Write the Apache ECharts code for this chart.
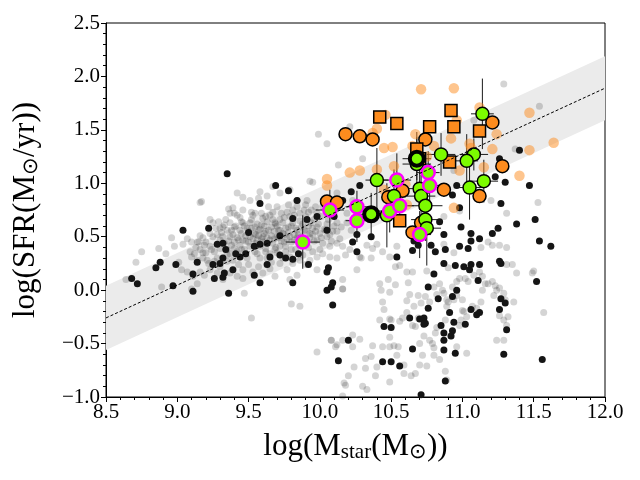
<!DOCTYPE html>
<html>
<head>
<meta charset="utf-8">
<script src="https://cdn.jsdelivr.net/npm/echarts@6/dist/echarts.min.js"></script>
<style>
html, body { margin: 0; padding: 0; background: #fff; }
#container { width: 640px; height: 480px; }
</style>
</head>
<body>
<div id="container"></div>
<script>
var dom = document.getElementById("container");
var myChart = echarts.init(dom);

// main sequence line and its scatter band
var msX = [8.5, 12.0];
var msY = [-0.26, 1.89];
var bandHalf = 0.3;

// faint background galaxies
var greyPts = [
    // dense sequence
    [9.58,0.92],[9.63,0.88],[9.57,0.86],[9.52,0.73],[9.545,0.72],[9.59,0.72],[9.62,0.69],[9.65,0.70],
    [9.67,0.73],[9.70,0.78],[9.73,0.72],[9.77,0.73],[9.79,0.69],[9.81,0.75],[9.84,0.78],[9.86,0.72],
    [9.90,0.69],[9.92,0.73],[9.94,0.75],[9.98,0.72],[10.01,0.69],[9.72,0.91],[9.67,0.97],[9.79,0.94],
    [9.84,0.84],[9.39,0.77],[9.37,0.72],[9.42,0.70],[9.46,0.75],[9.23,0.66],[9.25,0.63],[9.29,0.64],
    [9.32,0.59],[9.35,0.56],[9.37,0.63],[9.40,0.59],[9.44,0.56],[9.46,0.63],[9.49,0.58],[9.51,0.63],
    [9.545,0.59],[9.57,0.56],[9.59,0.61],[9.63,0.64],[9.66,0.59],[9.685,0.63],[9.71,0.56],[9.74,0.63],
    [9.78,0.59],[9.81,0.63],[9.84,0.56],[9.87,0.59],[9.91,0.55],[9.94,0.63],[9.98,0.59],[10.00,0.53],
    [10.04,0.56],[10.07,0.52],[10.12,0.55],[10.15,0.59],[10.19,0.63],[10.22,0.56],[10.12,0.44],[10.16,0.41],
    [10.07,0.41],[10.02,0.34],[10.07,0.31],[10.12,0.30],[10.18,0.33],[10.21,0.38],[9.98,0.31],[9.93,0.28],
    [9.90,0.24],[9.86,0.28],[9.81,0.25],[9.79,0.31],[9.76,0.36],[9.72,0.41],[9.685,0.38],[9.65,0.34],
    [9.62,0.39],[9.58,0.41],[9.545,0.36],[9.51,0.41],[9.47,0.38],[9.44,0.42],[9.40,0.39],[9.37,0.34],
    [9.33,0.44],[9.30,0.39],[9.26,0.36],[9.23,0.41],[9.19,0.42],[9.16,0.38],[9.12,0.34],[9.10,0.31],
    [9.14,0.28],[9.18,0.30],[9.22,0.25],[9.26,0.27],[9.30,0.22],[9.35,0.27],[9.39,0.28],[9.43,0.24],
    [9.46,0.19],[9.50,0.24],[9.53,0.17],[9.57,0.22],[9.60,0.16],[9.65,0.20],[9.685,0.13],[9.72,0.25],
    [9.77,0.19],[9.79,0.10],[9.84,0.14],[9.46,0.11],[9.42,0.13],[9.37,0.16],[9.32,0.10],[9.28,0.16],
    [9.23,0.19],[9.19,0.14],[9.16,0.17],[9.11,0.13],[9.51,0.50],[9.56,0.47],[9.60,0.50],[9.65,0.47],
    [9.70,0.50],[9.74,0.53],[9.79,0.50],[9.84,0.49],[9.88,0.47],[9.93,0.49],[9.98,0.47],[10.02,0.44],
    [9.32,0.50],[9.28,0.52],[9.23,0.53],[9.18,0.49],[9.15,0.45],[9.37,0.50],[9.42,0.49],[9.46,0.47],
    [9.17,0.83],[9.10,0.45],[10.16,0.10],[10.26,0.19],[10.28,0.31],[9.98,0.19],[10.12,0.63],[10.19,0.72],
    [10.23,0.84],[9.91,0.84],[10.04,0.84],[10.12,0.91],[9.51,0.84],[9.46,0.87],[9.42,0.91],
    [9.55,0.52],[9.62,0.55],[9.68,0.48],[9.75,0.45],[9.82,0.52],[9.88,0.62],[9.95,0.52],[10.05,0.62],
    [9.70,0.60],[9.60,0.45],[9.50,0.55],[9.45,0.38],[9.40,0.45],[9.35,0.38],[9.28,0.30],[9.20,0.35],
    [9.58,0.30],[9.66,0.26],[9.74,0.30],[9.80,0.38],[9.86,0.42],[9.92,0.40],[10.00,0.38],[10.08,0.46],
    [10.14,0.48],[9.72,0.66],[9.78,0.80],[9.64,0.78],[9.52,0.66],[9.44,0.68],[9.34,0.66],[9.96,0.66],
    [10.02,0.78],[10.10,0.72],[9.90,0.80],[9.56,0.62],[9.48,0.46],[9.38,0.56],[9.62,0.36],[9.70,0.35],
    [9.25,0.50],[9.27,0.58],[9.30,0.47],[9.31,0.54],[9.33,0.61],[9.36,0.46],[9.38,0.42],[9.39,0.52],
    [9.41,0.60],[9.43,0.47],[9.45,0.53],[9.47,0.60],[9.48,0.51],[9.50,0.45],[9.52,0.58],[9.53,0.48],
    [9.54,0.53],[9.55,0.44],[9.57,0.51],[9.58,0.57],[9.59,0.48],[9.61,0.53],[9.61,0.60],[9.63,0.49],
    [9.64,0.56],[9.66,0.51],[9.67,0.44],[9.68,0.55],[9.69,0.62],[9.71,0.49],[9.72,0.56],[9.73,0.46],
    [9.75,0.52],[9.76,0.58],[9.77,0.48],[9.78,0.54],[9.80,0.45],[9.80,0.60],[9.82,0.47],[9.83,0.58],
    [9.85,0.52],[9.86,0.65],[9.87,0.50],[9.89,0.56],[9.90,0.45],[9.92,0.60],[9.93,0.53],[9.95,0.58],
    [9.96,0.46],[9.97,0.55],[9.99,0.62],[10.01,0.49],[10.03,0.57],[10.05,0.50],[10.06,0.66],[10.09,0.55],
    [10.10,0.60],[9.35,0.33],[9.42,0.36],[9.49,0.30],[9.56,0.34],[9.63,0.30],[9.69,0.40],[9.76,0.41],
    [9.83,0.38],[9.88,0.33],[9.95,0.36],[9.53,0.70],[9.60,0.67],[9.67,0.66],[9.75,0.68],[9.82,0.70],
    [9.89,0.75],[9.97,0.78],[9.45,0.64],[9.30,0.58],[9.20,0.45],[9.24,0.38],[9.13,0.40],[9.09,0.36],
    // left and upper outliers
    [10.13,1.17],[9.95,1.01],[9.16,0.82],[9.36,0.76],[9.40,0.72],[8.96,0.49],[8.75,0.36],[8.71,0.26],
    [8.87,0.39],[8.92,0.34],[8.64,0.10],[8.89,0.03],[9.10,0.01],[9.14,0.06],[9.47,-0.03],[9.52,-0.26],
    [9.80,-0.13],[9.86,-0.15],[10.16,0.01],[10.08,-0.47],[10.12,-0.51],[10.23,-0.53],[8.98,0.41],[9.04,0.43],
    [9.07,0.48],[9.01,0.26],[9.03,0.19],[9.07,0.17],[9.16,0.51],[9.14,0.45],[9.18,0.35],[9.21,0.28],
    [11.29,1.93],[11.54,1.72],[9.99,1.46],[10.05,1.37],[10.21,1.53],[10.30,1.23],[11.08,1.59],[11.37,1.32],
    [10.94,1.12],[11.20,0.84],[11.31,0.72],[11.53,0.82],[11.13,0.85],[10.98,0.74],[10.87,0.69],[11.18,0.45],
    [9.93,1.02],
    // quenched cloud
    [10.16,0.01],[9.98,-0.58],[10.08,-0.47],[10.11,-0.53],[10.16,-0.47],[10.23,-0.42],[10.28,-0.46],[10.32,-0.64],
    [10.36,-0.62],[10.37,-0.52],[10.40,-0.72],[10.32,-0.73],[10.24,-0.72],[10.20,-0.80],[10.17,-0.87],[10.18,-0.89],
    [10.16,-0.99],[10.30,-0.90],[10.33,-0.93],[10.39,-0.80],[10.44,-0.53],[10.49,-0.53],[10.52,-0.52],[10.55,-0.53],
    [10.54,-0.61],[10.49,-0.44],[10.49,-0.27],[10.44,-0.11],[10.45,-0.18],[10.42,-0.28],[10.50,-0.28],[10.56,-0.29],
    [10.58,-0.26],[10.61,-0.21],[10.61,-0.10],[10.66,-0.15],[10.71,-0.12],[10.74,-0.06],[10.77,-0.11],[10.69,-0.26],
    [10.65,-0.33],[10.67,-0.34],[10.73,-0.43],[10.70,-0.50],[10.72,-0.61],[10.75,-0.71],[10.67,-0.78],[10.70,-0.70],
    [10.64,-0.80],[10.59,-0.78],[10.49,-0.86],[10.59,-0.70],[10.77,-0.47],[10.80,-0.54],[10.80,-0.61],[10.79,-0.50],
    [10.84,-0.65],[10.81,-0.40],[10.82,-0.35],[10.88,-0.28],[10.89,-0.15],[10.90,-0.11],[10.94,-0.09],[11.00,-0.09],
    [11.01,-0.20],[11.03,-0.25],[10.99,-0.28],[10.98,-0.33],[11.00,-0.19],[11.07,-0.15],[11.10,-0.17],[11.13,-0.11],
    [11.14,0.00],[11.16,0.06],[11.18,0.06],[11.21,0.08],[11.23,0.04],[11.24,0.00],[11.22,-0.05],[11.26,0.02],
    [11.29,-0.03],[11.30,-0.09],[11.26,-0.24],[11.29,-0.28],[11.31,-0.33],[11.32,-0.25],[11.29,-0.47],[11.24,-0.47],
    [11.36,-0.11],[11.38,0.16],[11.31,0.24],[11.35,0.24],[11.26,0.42],[11.31,0.40],[11.50,0.18],[11.49,0.16],
    [11.57,-0.21],[10.54,0.41],[10.40,0.43],[10.37,0.39],[10.44,0.36],[10.36,0.30],[10.33,0.42],[10.29,0.30],
    [10.49,0.31],[10.53,0.22],[10.56,0.23],[10.61,0.17],[10.65,0.17],[10.75,0.18],[10.84,0.06],[10.87,-0.03],
    [10.93,0.03],[10.96,0.08],[10.98,0.11],[11.02,0.11],[11.08,0.14],[11.12,0.17],[11.14,0.13],[10.90,0.21],
    [10.94,0.35],[10.87,0.43],[11.13,0.40],[11.21,0.42],[10.48,0.10],[10.42,0.06],[10.43,0.00],[10.49,-0.02],
    [10.53,0.05],[10.62,0.07],[10.63,-0.04],[10.69,-0.05],[10.82,-0.04],[10.86,0.00],[10.80,0.03],[10.89,-0.09],
    [10.96,-0.05],[11.04,0.08],[10.89,-0.84],[10.88,-0.76],[11.03,-0.59],[10.96,-0.53],[10.92,-0.43]
];

// individually detected galaxies (black dots)
var blackPts = [
    [9.35,1.09],[9.69,0.98],[9.78,0.93],[9.58,0.81],[9.84,0.84],[9.04,0.56],[9.22,0.58],[9.50,0.54],
    [9.81,0.67],[9.91,0.66],[9.98,0.69],[10.05,0.56],[10.22,0.92],[9.72,0.51],[9.63,0.44],[9.58,0.43],
    [9.54,0.41],[9.48,0.34],[9.44,0.31],[9.41,0.34],[9.34,0.38],[9.28,0.43],[9.32,0.44],[9.32,0.30],
    [9.30,0.25],[9.25,0.24],[9.14,0.26],[8.99,0.24],[8.88,0.26],[8.85,0.21],[9.11,0.15],[9.26,0.11],
    [9.32,0.12],[9.33,0.16],[9.39,0.19],[9.54,0.14],[9.58,0.07],[9.63,0.24],[9.65,0.31],[9.72,0.33],
    [9.76,0.30],[9.81,0.29],[9.92,0.24],[10.05,0.17],[10.06,0.21],[9.81,0.07],[10.09,0.07],[10.08,0.03],
    [10.05,0.00],[10.09,-0.14],[9.36,-0.03],[9.11,-0.01],[8.97,0.04],[8.72,0.06],[8.68,0.11],[10.26,0.36],
    [10.26,0.52],[10.20,-0.47],[9.85,0.34],
    [10.54,0.31],[10.65,0.37],[10.69,0.42],[10.78,0.42],[10.81,0.36],[10.88,0.38],[10.98,0.41],[11.04,0.39],
    [11.06,0.46],[10.87,0.25],[10.95,0.23],[11.01,0.22],[11.05,0.19],[11.06,0.24],[11.12,0.24],[10.80,0.15],
    [10.76,0.03],[10.83,-0.08],[10.96,0.00],[10.93,-0.06],[10.76,-0.17],[10.63,-0.26],[10.70,-0.27],[10.73,-0.26],
    [10.74,-0.31],[10.73,-0.32],[10.91,-0.21],[10.94,-0.30],[11.02,-0.32],[11.06,-0.18],[11.10,-0.23],[11.12,-0.21],
    [10.85,-0.33],[10.87,-0.40],[10.87,-0.47],[10.92,-0.43],[10.93,-0.38],[10.87,-0.56],[10.95,-0.59],[10.65,-0.55],
    [10.13,-0.66],[10.44,-0.67],[10.50,-0.67],[10.56,-0.71],[10.45,-0.34],[10.50,-0.35],[11.27,-0.08],[11.30,-0.12],
    [11.26,-0.18],[11.31,-0.37],[11.26,0.27],[11.27,0.25],[11.11,0.09],[11.52,0.08],[11.54,0.46],[11.62,0.41],
    [11.29,-0.60],[11.56,-0.65],[10.88,-0.85],[10.71,-0.98],
    [11.40,1.31],[11.26,1.23],[11.23,1.06],[11.30,1.01],[11.47,0.98],[10.96,0.98],[10.93,0.89],[10.98,0.77],
    [10.99,0.59],[11.06,0.53],[11.12,0.48],[11.21,0.53],[11.25,0.58],[11.27,0.81],[11.38,0.62],[11.51,0.66],
    [10.84,0.64],[10.87,0.52],[10.66,0.46],[10.28,0.98],[10.16,0.84],[10.23,0.45],[10.36,0.50],[10.10,0.69]
];

// faint orange sample
var lightOrangePts = [
    [10.71,1.88],[10.94,1.89],[11.12,1.71],[11.47,1.66],[11.64,1.38],[11.47,1.31],[11.40,1.07],[11.21,1.32],
    [11.24,1.46],[11.15,1.15],[11.05,1.37],[11.06,1.33],[10.92,1.42],[10.96,1.59],[10.98,1.12],[10.94,0.77],
    [10.80,1.35],[10.75,1.25],[10.67,1.46],[10.65,1.35],[10.46,1.64],[10.40,1.51],[10.37,1.47],[10.45,1.33],
    [10.51,1.34],[10.40,1.13],[10.52,1.16],[10.28,1.12],[10.21,1.10],[10.05,1.04],[10.05,0.98],[10.45,0.94],
    [10.60,0.99],[10.61,0.80]
];

var orangeCircles = [
    [10.18,1.46],[10.28,1.44],[10.37,1.41],[10.74,1.41],[11.21,1.57],[11.28,1.16],[10.87,0.94],[11.12,0.88],
    [10.58,0.93],[10.48,0.87],[10.05,0.83],[10.12,0.82],[10.65,0.54],[10.71,0.63]
];

var orangeSquares = [
    [10.42,1.62],[10.54,1.56],[10.77,1.53],[10.92,1.68],[10.94,1.53],[11.12,1.49],[10.68,1.32],[10.70,1.23],
    [10.91,1.20],[10.56,0.65]
];

// [logM, logSFR, err logM, err logSFR]
var greenPts = [
    [11.14,1.65,0.08,0.33],[10.85,1.27,0.10,0.20],[11.08,1.27,0.10,0.15],[11.03,1.21,0.08,0.25],
    [10.68,1.18,0.10,0.30],[10.40,1.03,0.08,0.30],[11.15,1.02,0.10,0.20],[11.05,0.96,0.10,0.30],
    [10.70,0.95,0.10,0.20],[10.52,0.88,0.08,0.25],[10.71,0.88,0.10,0.20],[10.74,0.79,0.12,0.15],
    [10.47,0.70,0.10,0.30],[10.74,0.66,0.10,0.20],[10.75,0.58,0.10,0.35]
];
var magentaPts = [
    [9.88,0.45,0.12,0.25],[10.07,0.75,0.10,0.19],[10.26,0.78,0.08,0.15],[10.26,0.65,0.08,0.20],
    [10.49,0.74,0.08,0.20],[10.56,0.79,0.10,0.15],[10.54,1.03,0.10,0.25],[10.76,1.10,0.08,0.20],
    [10.77,0.98,0.08,0.20],[10.70,0.52,0.08,0.22]
];
var ringPts = [
    [10.36,0.71,0.10,0.20],[10.68,1.23,0.10,0.20]
];

var serif = "'Liberation Serif', 'Times New Roman', serif";
var orange = '#fd8c1e';
var green = '#7cfc00';

var errorBars = function (data) {
    return {
        type: 'custom',
        silent: true,
        renderItem: function (params, api) {
            var x = api.value(0), y = api.value(1), xe = api.value(2), ye = api.value(3);
            var l = api.coord([x - xe, y]), r = api.coord([x + xe, y]);
            var t = api.coord([x, y + ye]), b = api.coord([x, y - ye]);
            var st = { stroke: '#1a1a1a', lineWidth: 1 };
            return {
                type: 'group',
                children: [
                    { type: 'line', shape: { x1: l[0], y1: l[1], x2: r[0], y2: r[1] }, style: st },
                    { type: 'line', shape: { x1: t[0], y1: t[1], x2: b[0], y2: b[1] }, style: st }
                ]
            };
        },
        data: data
    };
};

var pts = function (data) {
    return data.map(function (d) { return [d[0], d[1]]; });
};

var tickFmt = function (v) {
    return (v < 0 ? '\u2212' : '') + Math.abs(v).toFixed(1);
};

var titleRich = {
    a: { fontFamily: serif, fontSize: 31, color: '#000' },
    s: { fontFamily: serif, fontSize: 21, color: '#000', verticalAlign: 'bottom', padding: [12, 0, 0, 0] }
};

option = {
    backgroundColor: '#fff',
    animation: false,
    grid: {
        left: 106, right: 35, top: 23, bottom: 83,
        show: true, borderColor: '#000', borderWidth: 1
    },
    xAxis: {
        type: 'value', min: 8.5, max: 12.0, interval: 0.5,
        name: '{a|log(M}{s|star}{a|(M}{s|⊙}{a|))}',
        nameLocation: 'middle', nameGap: 33,
        nameTextStyle: { rich: titleRich },
        axisLine: { onZero: false, lineStyle: { color: '#000' } },
        axisTick: { length: 5, lineStyle: { color: '#000' } },
        minorTick: { show: true, splitNumber: 5, length: 3, lineStyle: { color: '#000' } },
        splitLine: { show: false },
        axisLabel: { fontFamily: serif, fontSize: 21, color: '#000', margin: 5, formatter: tickFmt }
    },
    yAxis: {
        type: 'value', min: -1.0, max: 2.5, interval: 0.5,
        name: '{a|log(SFR(M}{s|⊙}{a|/yr))}',
        nameLocation: 'middle', nameGap: 64,
        nameTextStyle: { rich: titleRich },
        axisLine: { onZero: false, lineStyle: { color: '#000' } },
        axisTick: { length: 5, lineStyle: { color: '#000' } },
        minorTick: { show: true, splitNumber: 5, length: 3, lineStyle: { color: '#000' } },
        splitLine: { show: false },
        axisLabel: { fontFamily: serif, fontSize: 21, color: '#000', margin: 6, formatter: tickFmt }
    },
    series: [
        {
            type: 'custom',
            silent: true,
            renderItem: function (params, api) {
                if (params.dataIndex !== 0) return;
                var up = [], lo = [];
                for (var i = 0; i < msX.length; i++) {
                    up.push(api.coord([msX[i], msY[i] + bandHalf]));
                    lo.unshift(api.coord([msX[i], msY[i] - bandHalf]));
                }
                return {
                    type: 'polygon',
                    shape: { points: up.concat(lo) },
                    style: { fill: '#ebebeb' }
                };
            },
            data: msX.map(function (x, i) { return [x, msY[i]]; })
        },
        {
            type: 'scatter', symbolSize: 7, silent: true,
            itemStyle: { color: 'rgba(0,0,0,0.17)', opacity: 1 },
            data: greyPts
        },
        {
            type: 'line', symbol: 'none', silent: true,
            lineStyle: { color: '#000', width: 1, type: [3, 2] },
            data: msX.map(function (x, i) { return [x, msY[i]]; })
        },
        {
            type: 'scatter', symbolSize: 7, silent: true,
            itemStyle: { color: '#151515', opacity: 1 },
            data: blackPts
        },
        {
            type: 'scatter', symbolSize: 10.5, silent: true,
            itemStyle: { color: orange, opacity: 0.5 },
            data: lightOrangePts
        },
        errorBars(greenPts),
        errorBars(magentaPts),
        errorBars(ringPts),
        {
            type: 'scatter', symbolSize: 13, silent: true,
            itemStyle: { color: orange, borderColor: '#000', borderWidth: 1.5, opacity: 1 },
            data: orangeCircles
        },
        {
            type: 'scatter', symbol: 'rect', symbolSize: 12, silent: true,
            itemStyle: { color: orange, borderColor: '#000', borderWidth: 1.5, opacity: 1 },
            data: orangeSquares
        },
        {
            type: 'scatter', symbolSize: 13, silent: true,
            itemStyle: { color: green, borderColor: '#000', borderWidth: 1.5, opacity: 1 },
            data: pts(greenPts)
        },
        {
            type: 'scatter', symbolSize: 13, silent: true,
            itemStyle: { color: green, borderColor: '#ff00ff', borderWidth: 2.5, opacity: 1 },
            data: pts(magentaPts)
        },
        {
            type: 'scatter', symbolSize: 14, silent: true,
            itemStyle: { color: green, borderColor: '#000', borderWidth: 4, opacity: 1 },
            data: pts(ringPts)
        }
    ]
};
if (option && typeof option === "object") {
    myChart.setOption(option, true);
}
</script>
</body>
</html>
